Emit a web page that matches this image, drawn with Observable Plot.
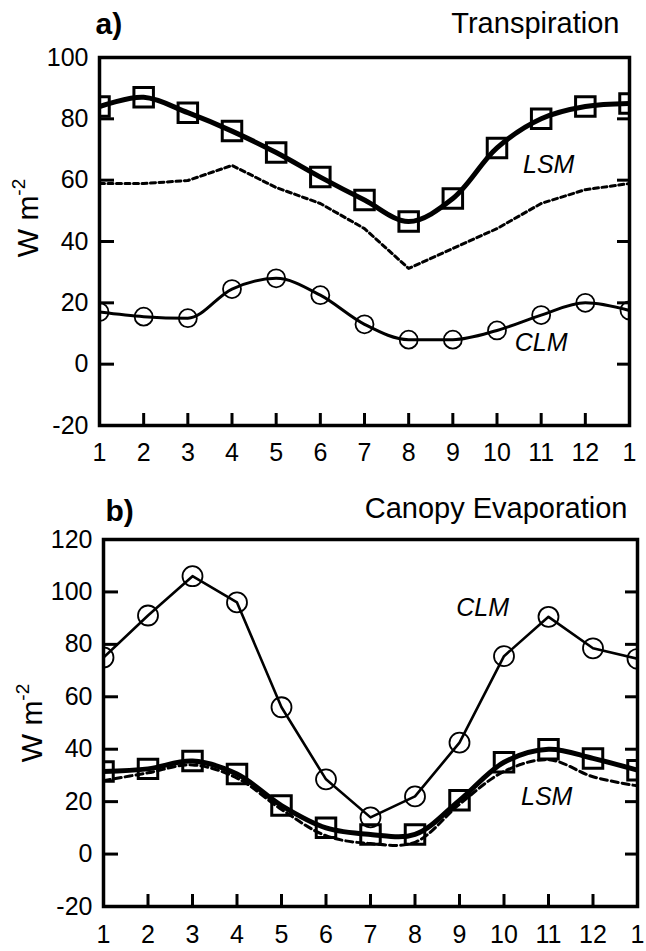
<!DOCTYPE html>
<html>
<head>
<meta charset="utf-8">
<script src="https://cdn.jsdelivr.net/npm/d3@7"></script>
<script src="https://cdn.jsdelivr.net/npm/@observablehq/plot@0.6"></script>
<style>
  body { margin: 0; background: #fff; }
  #chart svg { display: block; }
</style>
</head>
<body>
<div id="chart"></div>
<script>
// Month index (13 = January again) and the labels printed under each tick
const months = [1, 2, 3, 4, 5, 6, 7, 8, 9, 10, 11, 12, 13];
const monthLabels = ["1", "2", "3", "4", "5", "6", "7", "8", "9", "10", "11", "12", "1"];

// a) Transpiration, W m-2
const transpLsm = [84, 87, 82, 76, 69, 61, 53.5, 46.5, 54, 70.5, 80, 84, 85];
const transpRef = [58.9, 58.9, 59.9, 64.8, 57.6, 52.4, 44.2, 31.2, 37.7, 44.2, 52.4, 56.9, 58.9];
const transpClm = [17, 15.5, 15, 24.5, 28, 22.5, 13, 8, 8, 11, 16, 20, 17.5];
const transpTicks = [-20, 0, 20, 40, 60, 80, 100];

// b) Canopy evaporation, W m-2
const canopyClm = [75, 91, 106, 96, 56, 28.5, 14, 22, 42.5, 75.5, 90.5, 78.5, 74.5];
const canopyLsm = [31.5, 32.5, 35.5, 30.5, 18.5, 10, 7.5, 7.5, 20.5, 35, 40, 36.5, 32];
const canopyRef = [28, 31, 34, 29, 17, 7, 4, 4.5, 19, 31.5, 36, 29.5, 26];
const canopyTicks = [-20, 0, 20, 40, 60, 80, 100, 120];

// Series name tags placed next to the curves (month, value)
const transpTags = [{month: 11.17, value: 64.8, name: "LSM"}, {month: 11.0, value: 6.8, name: "CLM"}];
const canopyTags = [{month: 9.52, value: 94, name: "CLM"}, {month: 10.96, value: 21.6, name: "LSM"}];

const FONT = "'Liberation Sans', Arial, Helvetica, sans-serif";

function panel(cfg) {
  const width = 646;
  const plotW = width - cfg.marginLeft - cfg.marginRight;
  const plotH = cfg.height - cfg.marginTop - cfg.marginBottom;
  const rows = months.map((m, i) => ({month: m, lsm: cfg.lsm[i], ref: cfg.ref[i], clm: cfg.clm[i]}));
  const innerTicks = cfg.yTicks.slice(1, -1);
  const fmtMonth = d => monthLabels[months.indexOf(d)];

  const svg = Plot.plot({
    width,
    height: cfg.height,
    marginLeft: cfg.marginLeft,
    marginRight: cfg.marginRight,
    marginTop: cfg.marginTop,
    marginBottom: cfg.marginBottom,
    style: {fontFamily: FONT, fontSize: "25px", color: "black", background: "white", overflow: "visible"},
    x: {domain: [1, 13]},
    y: {domain: [cfg.yTicks[0], cfg.yTicks[cfg.yTicks.length - 1]]},
    marks: [
      Plot.axisX({ticks: months, tickFormat: fmtMonth, tickSize: 0, tickPadding: cfg.xPad, fontSize: 25, label: null}),
      Plot.axisY({ticks: cfg.yTicks, tickFormat: d => String(d), tickSize: 0, tickPadding: 11, fontSize: 25, label: null}),
      // secondary (broken) curve
      Plot.line(rows, {x: "month", y: "ref", curve: cfg.refCurve, stroke: "black",
        strokeWidth: 3, strokeDasharray: cfg.refDash, clip: true}),
      // CLM: thin line with open circles
      Plot.line(rows, {x: "month", y: "clm", curve: cfg.clmCurve, stroke: "black",
        strokeWidth: cfg.clmWidth, clip: true}),
      Plot.dot(rows, {x: "month", y: "clm", r: cfg.circleR, stroke: "black", strokeWidth: 1.8,
        fill: "none", clip: true}),
      // LSM: heavy line with open squares
      Plot.line(rows, {x: "month", y: "lsm", curve: "catmull-rom", stroke: "black",
        strokeWidth: 5, clip: true}),
      Plot.dot(rows, {x: "month", y: "lsm", symbol: "square", r: 11, stroke: "black",
        strokeWidth: 3, fill: "none", clip: true}),
      // inward tick marks on left, right and bottom edges
      Plot.ruleY(innerTicks, {insetRight: plotW - 15, strokeWidth: 3}),
      Plot.ruleY(innerTicks, {insetLeft: plotW - 12, strokeWidth: 3}),
      Plot.ruleX(months.slice(1, -1), {insetTop: plotH - 12, strokeWidth: 3}),
      Plot.frame({stroke: "black", strokeWidth: 3.5}),
      Plot.text(cfg.tags, {x: "month", y: "value", text: "name", fontStyle: "italic", fontSize: 25}),
      Plot.text([cfg.tag], {frameAnchor: "top-left", dx: cfg.tagDx, dy: cfg.tagDy, textAnchor: "start",
        lineAnchor: "bottom", fontWeight: "bold", fontSize: 30}),
      Plot.text([cfg.title], {frameAnchor: "top-right", dx: -10, dy: cfg.titleDy, textAnchor: "end",
        lineAnchor: "bottom", fontSize: 29})
    ]
  });

  // rotated unit label with superscript exponent
  const label = d3.select(svg).append("text")
    .attr("transform", `translate(${cfg.unitX},${cfg.unitY}) rotate(-90)`)
    .attr("text-anchor", "middle")
    .attr("font-family", FONT)
    .attr("font-size", 30)
    .attr("fill", "black");
  label.append("tspan").text("W m");
  label.append("tspan").attr("font-size", 19).attr("dy", -13).text("-2");
  return svg;
}

const root = document.getElementById("chart");
root.append(panel({
  height: 470, marginLeft: 99, marginRight: 17, marginTop: 57, marginBottom: 45,
  lsm: transpLsm, ref: transpRef, clm: transpClm, yTicks: transpTicks,
  refDash: "5,3.5", refCurve: "linear", clmCurve: "monotone-x", clmWidth: 3, circleR: 9, xPad: 18,
  tags: transpTags, tag: "a)", tagDx: -4, tagDy: -24, title: "Transpiration", titleDy: -25,
  unitX: 38, unitY: 218
}));
root.append(panel({
  height: 481, marginLeft: 103, marginRight: 9, marginTop: 69, marginBottom: 45,
  lsm: canopyLsm, ref: canopyRef, clm: canopyClm, yTicks: canopyTicks,
  refDash: "7,4", refCurve: "catmull-rom", clmCurve: "linear", clmWidth: 2.6, circleR: 10, xPad: 19,
  tags: canopyTags, tag: "b)", tagDx: 2, tagDy: -19, title: "Canopy Evaporation", titleDy: -22,
  unitX: 42, unitY: 253
}));
</script>
</body>
</html>
